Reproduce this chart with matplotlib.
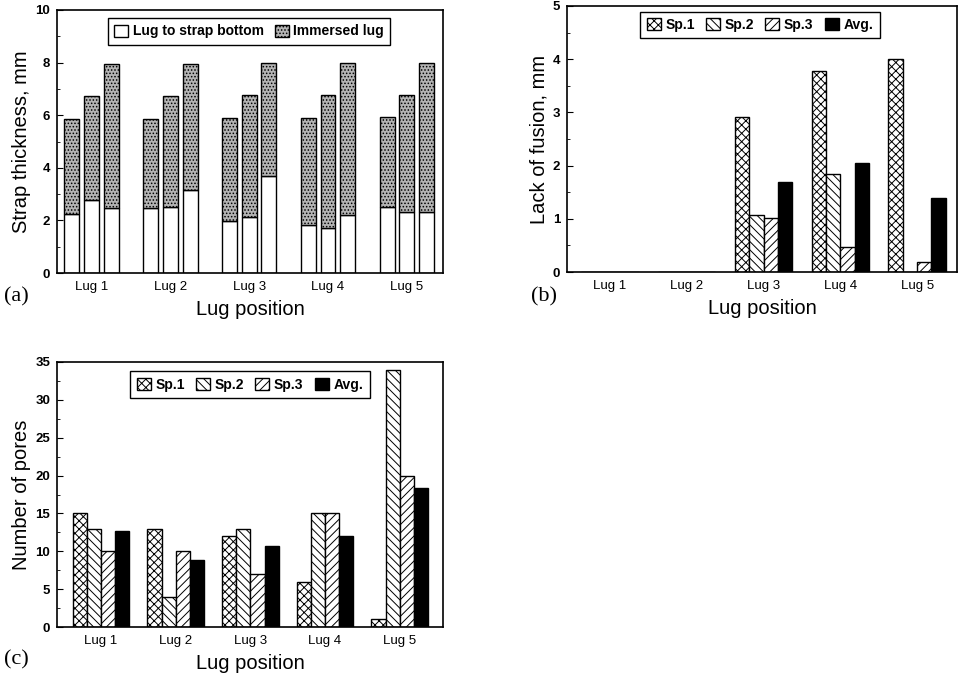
"""
Lug position charts (a) strap thickness, (b) lack of fusion, (c) number of pores
"""

import numpy as np
import matplotlib
matplotlib.use("Agg")
import matplotlib.pyplot as plt

plt.rcParams['font.family'] = ['Liberation Sans', 'DejaVu Sans']
plt.rcParams['hatch.linewidth'] = 0.7
plt.rcParams['axes.linewidth'] = 1.2

# --- data ---
lugs = ['Lug 1', 'Lug 2', 'Lug 3', 'Lug 4', 'Lug 5']

# (a) three bars per lug: white part height and total height
strap_bottom = [
    [2.25, 2.76, 2.47],
    [2.48, 2.52, 3.16],
    [1.98, 2.14, 3.69],
    [1.84, 1.70, 2.20],
    [2.50, 2.33, 2.33],
]
strap_total = [
    [5.86, 6.73, 7.93],
    [5.86, 6.73, 7.93],
    [5.88, 6.77, 7.97],
    [5.88, 6.77, 7.98],
    [5.92, 6.77, 7.97],
]

# (b) lack of fusion, mm
series_names = ['Sp.1', 'Sp.2', 'Sp.3', 'Avg.']
fusion_sp1 = [0, 0, 2.92, 3.77, 4.00]
fusion_sp2 = [0, 0, 1.07, 1.85, 0.0]
fusion_sp3 = [0, 0, 1.02, 0.47, 0.18]
fusion_avg = [0, 0, 1.69, 2.04, 1.39]

# (c) number of pores
pores_sp1 = [15, 13, 12, 6, 1]
pores_sp2 = [13, 4, 13, 15, 34]
pores_sp3 = [10, 10, 7, 15, 20]
pores_avg = [12.7, 8.9, 10.7, 12.0, 18.3]

hatches = ['xxxx', '\\\\\\\\', '////', None]
faces = ['white', 'white', 'white', 'black']

W, H = 962, 676
fig = plt.figure(figsize=(W / 100, H / 100), dpi=100)


def fig_rect(x0, y0, x1, y1):
    """pixel box -> figure fraction"""
    return [x0 / W, 1 - y1 / H, (x1 - x0) / W, (y1 - y0) / H]


def style_axes(ax, ymax, major, minor, ylabel, tag, tag_xy):
    ax.set_ylim(0, ymax)
    ax.set_yticks(np.arange(0, ymax + 0.001, major))
    ax.set_yticks(np.arange(0, ymax + 0.001, minor), minor=True)
    ax.set_xticks(np.arange(1, len(lugs) + 1))
    ax.set_xticklabels(lugs, fontsize=9.5)
    ax.tick_params(axis='x', length=0, pad=6)
    ax.tick_params(axis='y', direction='in', length=4, labelsize=9.5, pad=5)
    ax.tick_params(axis='y', which='minor', direction='in', length=2)
    for lab in ax.get_yticklabels():
        lab.set_fontweight('bold')
    ax.set_ylabel(ylabel, fontsize=14.5, labelpad=3)
    ax.set_xlabel('Lug position', fontsize=14.5, labelpad=5)
    fig.text(tag_xy[0] / W, 1 - tag_xy[1] / H, tag, fontsize=16,
             family=['Liberation Serif', 'DejaVu Serif'], va='center')


def legend(ax, handles, labels, bbox):
    leg = ax.legend(handles, labels, loc='center', bbox_to_anchor=bbox,
                    bbox_transform=fig.transFigure, ncol=len(labels),
                    prop={'size': 10, 'weight': 'bold'},
                    handlelength=1.0, handleheight=1.0,
                    handletextpad=0.35, columnspacing=0.8, borderpad=0.45,
                    fancybox=False, framealpha=1, borderaxespad=0)
    leg.get_frame().set_edgecolor('black')
    leg.get_frame().set_linewidth(1.0)


# (a) strap thickness
ax_a = fig.add_axes(fig_rect(57, 10, 443, 273))
x = np.arange(1, len(lugs) + 1)
bot = np.array(strap_bottom)
tot = np.array(strap_total)
pitch, bw = 0.25, 0.19
for j in range(3):
    xs = x + (j - 1) * pitch
    b1 = ax_a.bar(xs, bot[:, j], bw, color='white', edgecolor='black', lw=1.0)
    b2 = ax_a.bar(xs, tot[:, j] - bot[:, j], bw, bottom=bot[:, j],
                  color='#b4b4b4', edgecolor='black', hatch='.....', lw=1.0)
ax_a.set_xlim(0.56, 5.46)
style_axes(ax_a, 10, 2, 1, 'Strap thickness, mm', '(a)', (4, 297))
legend(ax_a, [b1, b2], ['Lug to strap bottom', 'Immersed lug'],
       (249 / W, 1 - 31.5 / H))


def grouped(ax, values, bw):
    handles = []
    for k, vals in enumerate(values):
        xs = x + (k - 1.5) * bw
        h = ax.bar(xs, vals, bw, color=faces[k], edgecolor='black',
                   hatch=hatches[k], lw=1.0)
        handles.append(h)
    return handles


# (b) lack of fusion
ax_b = fig.add_axes(fig_rect(567, 6, 957, 272))
hb = grouped(ax_b, [fusion_sp1, fusion_sp2, fusion_sp3, fusion_avg], 0.187)
ax_b.set_xlim(0.44, 5.52)
style_axes(ax_b, 5, 1, 0.5, 'Lack of fusion, mm', '(b)', (531, 297))
legend(ax_b, hb, series_names, (760 / W, 1 - 25 / H))

# (c) number of pores
ax_c = fig.add_axes(fig_rect(57, 362, 443, 627))
hc = grouped(ax_c, [pores_sp1, pores_sp2, pores_sp3, pores_avg], 0.19)
ax_c.set_xlim(0.41, 5.58)
style_axes(ax_c, 35, 5, 2.5, 'Number of pores', '(c)', (4, 660))
legend(ax_c, hc, series_names, (250 / W, 1 - 384.5 / H))

fig.savefig('out.png', dpi=100)
